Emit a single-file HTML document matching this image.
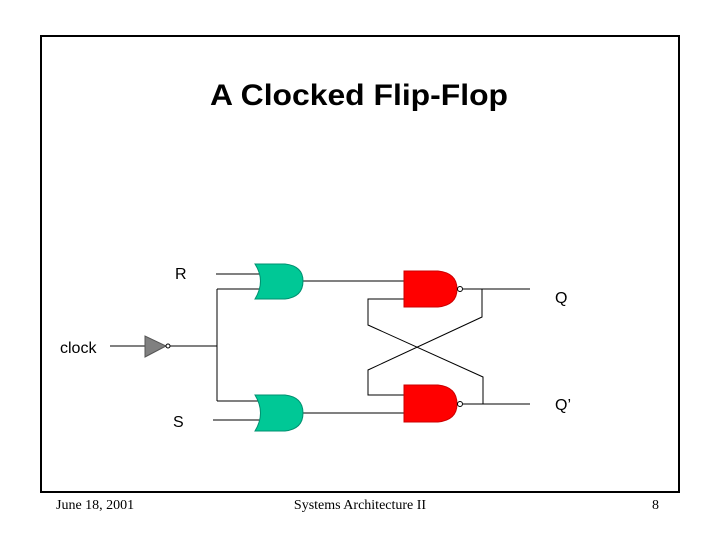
<!DOCTYPE html>
<html><head><style>body{margin:0;background:#fff}</style></head><body>
<svg width="720" height="540" xmlns="http://www.w3.org/2000/svg" style="display:block">
<rect x="41" y="36" width="638" height="456" fill="none" stroke="#000" stroke-width="2"/>
<text x="210" y="105" font-family="Liberation Sans, sans-serif" font-size="30" font-weight="bold" textLength="298" lengthAdjust="spacingAndGlyphs">A Clocked Flip-Flop</text>
<g font-family="Liberation Serif, serif" font-size="14">
<text x="56" y="509">June 18, 2001</text>
<text x="360" y="509" text-anchor="middle">Systems Architecture II</text>
<text x="659" y="509" text-anchor="end">8</text>
</g>
<g font-family="Liberation Sans, sans-serif" font-size="16">
<text x="175" y="279">R</text>
<text x="555" y="303">Q</text>
<text x="60" y="353">clock</text>
<text x="173" y="427">S</text>
<text x="555" y="410">Q’</text>
</g>
<g stroke="#000" stroke-width="1" fill="none">
<line x1="216" y1="274" x2="262" y2="274"/>
<line x1="217" y1="289" x2="262" y2="289"/>
<line x1="217" y1="289" x2="217" y2="401"/>
<line x1="217" y1="401" x2="262" y2="401"/>
<line x1="213" y1="420" x2="262" y2="420"/>
<line x1="110" y1="346" x2="145" y2="346"/>
<line x1="170" y1="346" x2="217" y2="346"/>
<line x1="303" y1="281" x2="404" y2="281"/>
<line x1="303" y1="413" x2="404" y2="413"/>
<line x1="463" y1="289" x2="530" y2="289"/>
<line x1="463" y1="404" x2="530" y2="404"/>
<polyline points="404,299 368,299 368,325 483,377 483,404"/>
<polyline points="482,289 482,317 368,370 368,395 404,395"/>
</g>
<polygon points="145,336 145,357 166,346" fill="#808080" stroke="#555"/>
<circle cx="168" cy="346" r="2" fill="#fff" stroke="#000"/>
<path d="M255,264 L285,264 Q303,266 303,281 Q303,297 285,299 L255,299 Q266,281 255,264Z" fill="#00c896" stroke="#009070"/>
<path d="M255,395 L285,395 Q303,397 303,413 Q303,429 285,431 L255,431 Q266,413 255,395Z" fill="#00c896" stroke="#009070"/>
<path d="M404,271 L438,271 Q457,273 457,289 Q457,305 438,307 L404,307Z" fill="#f00" stroke="#c00"/>
<path d="M404,385 L438,385 Q457,387 457,404 Q457,420 438,422 L404,422Z" fill="#f00" stroke="#c00"/>
<circle cx="460" cy="289" r="2.5" fill="#fff" stroke="#000"/>
<circle cx="460" cy="404" r="2.5" fill="#fff" stroke="#000"/>
</svg>
</body></html>
